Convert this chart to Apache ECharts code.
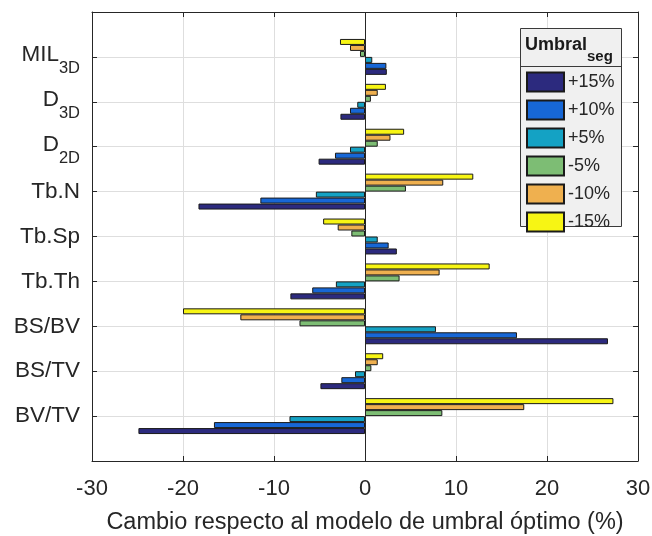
<!DOCTYPE html>
<html><head><meta charset="utf-8">
<script src="https://cdn.jsdelivr.net/npm/echarts@6/dist/echarts.min.js"></script>
<style>html,body{margin:0;padding:0;background:#fff}#c{width:652px;height:536px}</style>
</head><body><div id="c"></div>
<script>
// categories, bottom to top (as drawn on the y axis)
const categories = ['BV/TV', 'BS/TV', 'BS/BV', 'Tb.Th', 'Tb.Sp', 'Tb.N', 'D2D', 'D3D', 'MIL3D'];
const seriesNames = ['+15%', '+10%', '+5%', '-5%', '-10%', '-15%'];
const p15 = [-24.9, -4.9, 26.7, -8.2, 3.5, -18.3, -5.1, -2.7, 2.4];
const p10 = [-16.6, -2.6, 16.7, -5.8, 2.6, -11.5, -3.3, -1.65, 2.35];
const p5  = [-8.3, -1.1, 7.8, -3.2, 1.4, -5.4, -1.65, -0.85, 0.8];
const m5  = [8.5, 0.7, -7.2, 3.8, -1.5, 4.5, 1.4, 0.65, -0.55];
const m10 = [17.5, 1.4, -13.7, 8.2, -3.0, 8.6, 2.8, 1.4, -1.65];
const m15 = [27.3, 2.0, -20.0, 13.7, -4.6, 11.9, 4.3, 2.3, -2.75];
const xMin = -30, xMax = 30, xStep = 10;
const colors = ['#2c2a7e', '#1767d6', '#14a2c4', '#7dbd74', '#efb04f', '#f7f514'];
const subLabels = { 'MIL3D': ['MIL', '3D'], 'D3D': ['D', '3D'], 'D2D': ['D', '2D'] };

const FONT = 'Liberation Sans, Arial, sans-serif';
const TXT = '#262626';
const axisData = [''].concat(categories, ['']);
const values = [p15, p10, p5, m5, m10, m15];

const chart = echarts.init(document.getElementById('c'), null, { renderer: 'canvas' });

// ECharts puts the first series of a horizontal group at the top,
// so add them in reverse to put +15% at the bottom of each group.
const series = [];
for (let i = seriesNames.length - 1; i >= 0; i--) {
  const s = {
    name: seriesNames[i],
    type: 'bar',
    xAxisIndex: 0,
    yAxisIndex: 0,
    data: [null].concat(values[i], [null]),
    barGap: '0%',
    barCategoryGap: '20%',
    itemStyle: { color: colors[i], borderColor: '#1a1a1a', borderWidth: 1 },
    emphasis: { disabled: true },
    z: 3
  };
  if (i === 0) {
    s.markLine = {
      silent: true,
      symbol: 'none',
      label: { show: false },
      lineStyle: { color: TXT, width: 1, type: 'solid' },
      data: [{ xAxis: 0 }],
      z: 5
    };
  }
  series.push(s);
}

const yLabelFormatter = v => {
  if (subLabels[v]) return '{m|' + subLabels[v][0] + '}{s|' + subLabels[v][1] + '}';
  return v === '' ? '' : '{n|' + v + '}';
};

const option = {
  animation: false,
  textStyle: { fontFamily: FONT },
  grid: { left: 92, right: 14, top: 12, bottom: 75, containLabel: false, outerBoundsMode: 'none' },
  title: {
    text: '{a|Umbral}{b|seg}',
    left: 525, top: 33,
    padding: 0,
    z: 60,
    textStyle: {
      rich: {
        a: { fontFamily: FONT, fontSize: 18, fontWeight: 'bold', color: '#1a1a1a', padding: [0, 0, 6, 0] },
        b: { fontFamily: FONT, fontSize: 15, fontWeight: 'bold', color: '#1a1a1a', padding: [16, 0, 0, 0] }
      }
    }
  },
  legend: {
    orient: 'vertical',
    left: 526, top: 71.5,
    padding: 0,
    itemWidth: 37, itemHeight: 19, itemGap: 7,
    icon: 'rect',
    z: 60,
    selectedMode: false,
    data: seriesNames,
    textStyle: { fontFamily: FONT, fontSize: 18, color: TXT, padding: [0, 0, 0, -1] }
  },
  graphic: [
    { type: 'rect', z: 50, shape: { x: 520.5, y: 28.5, width: 101, height: 198 },
      style: { fill: '#f0f0f0', stroke: '#3a3a3a', lineWidth: 1 } },
    { type: 'line', z: 51, shape: { x1: 520.5, y1: 66.5, x2: 621.5, y2: 66.5 },
      style: { stroke: '#3a3a3a', lineWidth: 1 } }
  ],
  xAxis: [
    {
      type: 'value', position: 'bottom', min: xMin, max: xMax, interval: xStep,
      name: 'Cambio respecto al modelo de umbral óptimo (%)',
      nameLocation: 'middle', nameGap: 50,
      nameTextStyle: { fontFamily: FONT, fontSize: 23.5, color: TXT },
      axisLine: { show: true, onZero: false, lineStyle: { color: TXT, width: 1 } },
      axisTick: { show: true, inside: true, length: 5, lineStyle: { color: TXT } },
      axisLabel: { fontFamily: FONT, fontSize: 22, color: TXT, margin: 17 },
      splitLine: { show: true, lineStyle: { color: '#dedede', width: 1 } }
    },
    {
      type: 'value', position: 'top', min: xMin, max: xMax, interval: xStep,
      axisLine: { show: true, onZero: false, lineStyle: { color: TXT, width: 1 } },
      axisTick: { show: true, inside: true, length: 5, lineStyle: { color: TXT } },
      axisLabel: { show: false },
      splitLine: { show: false }
    }
  ],
  yAxis: [
    {
      type: 'category', position: 'left', boundaryGap: false, data: axisData,
      axisLine: { show: true, onZero: false, lineStyle: { color: TXT, width: 1 } },
      axisTick: { show: true, inside: true, length: 5, interval: 0, lineStyle: { color: TXT } },
      splitLine: { show: true, interval: 0, lineStyle: { color: '#dedede', width: 1 } },
      axisLabel: {
        interval: 0, margin: 12, color: TXT, formatter: yLabelFormatter,
        rich: {
          n: { fontFamily: FONT, fontSize: 22.5, color: TXT },
          m: { fontFamily: FONT, fontSize: 22.5, color: TXT, padding: [0, 0, 4, 0] },
          s: { fontFamily: FONT, fontSize: 16.5, color: TXT, padding: [24, 0, 0, 0] }
        }
      }
    },
    {
      type: 'category', position: 'right', boundaryGap: false, data: axisData,
      axisLine: { show: true, onZero: false, lineStyle: { color: TXT, width: 1 } },
      axisTick: { show: true, inside: true, length: 5, interval: 0, lineStyle: { color: TXT } },
      axisLabel: { show: false },
      splitLine: { show: false }
    }
  ],
  series: series
};
chart.setOption(option);
</script>
</body></html>
